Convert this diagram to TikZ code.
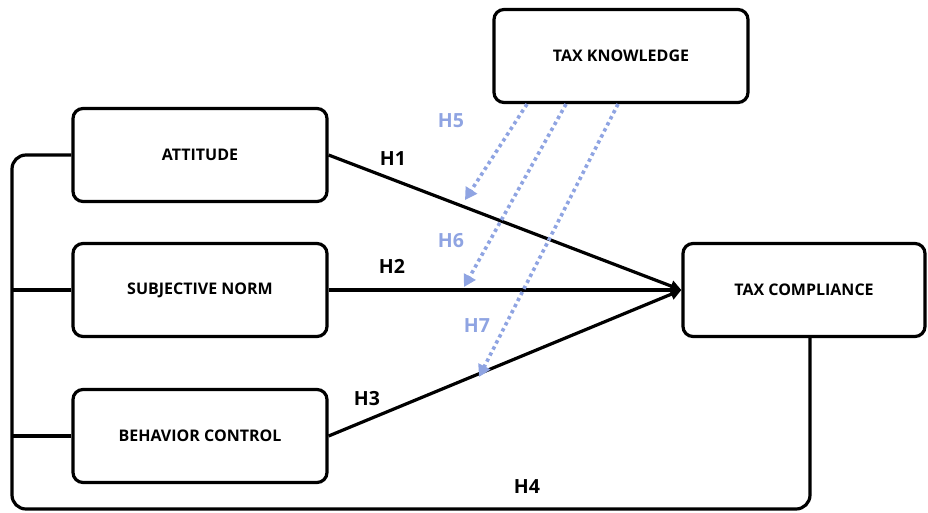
\documentclass[tikz,border=0pt]{standalone}
\usepackage{fontspec}
\setmainfont{Open Sans}
\usetikzlibrary{arrows.meta, positioning}
\definecolor{hblue}{HTML}{8FA4E2}
\tikzstyle{box} = [draw, line width=3.2pt, rounded corners=10pt, minimum width=254pt, minimum height=93pt, font=\fontsize{16}{18}\selectfont\bfseries]
\tikzstyle{arrow} = [line width=3.2pt,-{Triangle[length=11pt,width=11pt]}]
\tikzstyle{dotarrow} = [hblue, line width=3.6pt, dash pattern=on 3.4pt off 3.4pt, -{Triangle[length=12pt,width=13pt]}]
\tikzstyle{hlabel} = [font=\fontsize{19.5}{22}\selectfont\bfseries]

\begin{document}
\begin{tikzpicture}[x=1pt, y=-1pt]
        \useasboundingbox (0,0) rectangle (928,512);
        \node[box] (know) at (621,56) {TAX KNOWLEDGE};
        \node[box] (att) at (200,155) {ATTITUDE};
        \node[box] (norm) at (200,290) {SUBJECTIVE NORM};
        \node[box] (ctrl) at (200,436) {BEHAVIOR CONTROL};
        \node[box, minimum width=242pt] (comp) at (804,290) {TAX COMPLIANCE};

        \coordinate (loopL) at (12,509);
        \coordinate (loopR) at (810,509);

        % Loop back - H4
        \draw[line width=3.2pt, rounded corners=14pt] (att.west) -| (loopL) -- (loopR) -- (loopR |- comp.south);
        \draw[line width=3.2pt] (norm.west) -- (norm.west -| loopL);
        \draw[line width=3.2pt] (ctrl.west) -- (ctrl.west -| loopL);

        % Edges - black
        \draw[arrow] (att.east) -- (comp.west);
        \draw[arrow] (norm.east) -- (comp.west);
        \draw[arrow] (ctrl.east) -- (comp.west);

        % Moderation - blue
        \coordinate (m5) at (465,200);
        \coordinate (m6) at (464,287);
        \coordinate (m7) at (479,377);
        \draw[dotarrow] ([xshift=-94pt]know.south) -- (m5);
        \draw[dotarrow] ([xshift=-55pt]know.south) -- (m6);
        \draw[dotarrow] ([xshift=-3pt]know.south) -- (m7);

        \node[hlabel] (h1) at (393,159) {H1};
        \node[hlabel] (h2) at (392,266) {H2};
        \node[hlabel] (h3) at (367,399) {H3};
        \node[hlabel] (h4) at (527,487) {H4};
        \node[hlabel, hblue] (h5) at (451,121) {H5};
        \node[hlabel, hblue] (h6) at (451,241) {H6};
        \node[hlabel, hblue] (h7) at (477,326) {H7};
      \end{tikzpicture}
\end{document}
